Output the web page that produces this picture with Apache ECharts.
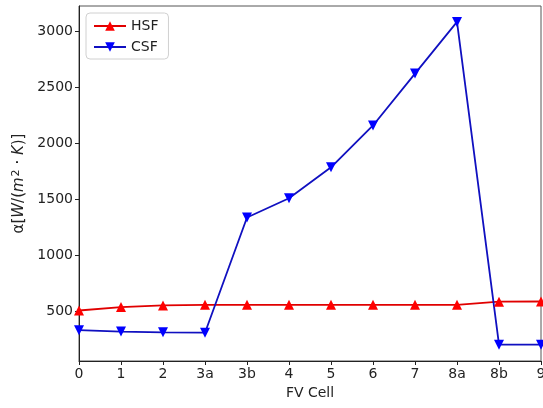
<!DOCTYPE html>
<html>
<head>
<meta charset="utf-8">
<script src="https://cdn.jsdelivr.net/npm/echarts@6/dist/echarts.min.js"></script>
<style>
    html, body {margin: 0; padding: 0; background: #fff;}
    #chart {width: 543px; height: 408px;}
</style>
</head>
<body>
<div id="chart"></div>
<script>
// FV cells along the x axis
const cells = ['0', '1', '2', '3a', '3b', '4', '5', '6', '7', '8a', '8b', '9'];
// heat transfer coefficient
const hsf = [510, 540, 555, 560, 560, 560, 560, 560, 560, 560, 588, 590];
const csf = [335, 322, 315, 312, 1338, 1510, 1785, 2158, 2620, 3080, 205, 205];
const yTicks = [500, 1000, 1500, 2000, 2500, 3000];

const FONT = 'DejaVu Sans';

let myChart = echarts.init(document.getElementById('chart'));

let option = {
    animation: false,
    textStyle: {fontFamily: FONT},
    grid: {
        left: 79, right: 2, top: 6, bottom: 47,
        outerBoundsMode: 'none',
        show: true, borderColor: '#555', borderWidth: 1
    },
    legend: {
        orient: 'vertical',
        left: 86, top: 13,
        padding: [6, 10, 5, 7],
        itemGap: 7,
        itemWidth: 32, itemHeight: 12,
        backgroundColor: 'rgba(255,255,255,0.8)',
        borderColor: '#d0d0d0', borderWidth: 1, borderRadius: 4,
        textStyle: {fontFamily: FONT, fontSize: 14, color: '#222'},
        data: ['HSF', 'CSF']
    },
    xAxis: {
        type: 'category',
        data: cells,
        boundaryGap: false,
        name: 'FV Cell',
        nameLocation: 'middle',
        nameGap: 25,
        nameTextStyle: {fontFamily: FONT, fontSize: 14, color: '#222'},
        axisLine: {lineStyle: {color: '#222', width: 1}},
        axisTick: {show: true, length: 4, inside: false, alignWithLabel: true, lineStyle: {color: '#222'}},
        axisLabel: {fontFamily: FONT, fontSize: 14, color: '#222', margin: 6, interval: 0},
        splitLine: {show: false}
    },
    yAxis: {
        type: 'value',
        min: 60,
        max: 3222,
        name: '{n|α[}{i|W}{n|/(}{i|m}{s|2}{n| · }{i|K}{n|)]}',
        nameLocation: 'middle',
        nameRotate: 90,
        nameGap: 51,
        nameTextStyle: {
            rich: {
                n: {fontFamily: FONT, fontSize: 15, color: '#222'},
                i: {fontFamily: FONT, fontSize: 15, color: '#222', fontStyle: 'italic'},
                s: {fontFamily: FONT, fontSize: 11, color: '#222', verticalAlign: 'top', padding: [0, 0, 6, 1]}
            }
        },
        axisLine: {show: true, lineStyle: {color: '#222', width: 1}},
        axisTick: {show: true, length: 4, customValues: yTicks, lineStyle: {color: '#222'}},
        axisLabel: {
            fontFamily: FONT, fontSize: 14, color: '#222', margin: 6,
            customValues: yTicks,
            formatter: function (v) { return String(v); }
        },
        splitLine: {show: false}
    },
    series: [
        {
            name: 'HSF',
            type: 'line',
            data: hsf,
            color: '#ff0000',
            symbol: 'triangle',
            symbolSize: 10,
            showAllSymbol: true,
            lineStyle: {width: 1.8, color: '#e00000'},
            itemStyle: {color: '#ff0000'}
        },
        {
            name: 'CSF',
            type: 'line',
            data: csf,
            color: '#0000ff',
            symbol: 'triangle',
            symbolRotate: 180,
            symbolSize: 10,
            showAllSymbol: true,
            lineStyle: {width: 1.8, color: '#1010c0'},
            itemStyle: {color: '#0000ff'}
        }
    ]
};

myChart.setOption(option);
</script>
</body>
</html>
